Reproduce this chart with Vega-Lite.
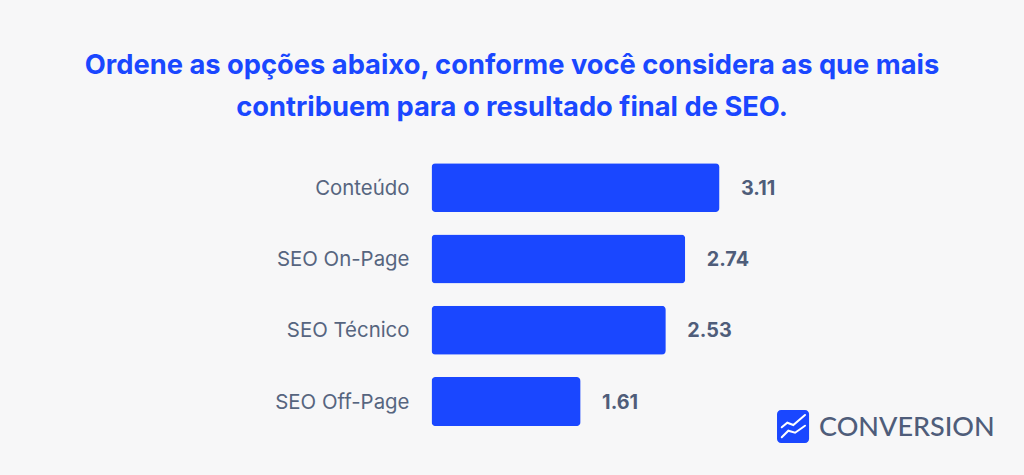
{"$schema":"https://vega.github.io/schema/vega-lite/v6.json","autosize":"none","padding":{"left":431.5,"right":0,"top":152,"bottom":37.8},"width":592.5,"height":285.2,"background":"#f7f7f8","title":{"text":["Ordene as opções abaixo, conforme você considera as que mais","contribuem para o resultado final de SEO."],"font":"Inter","fontSize":27.3,"fontWeight":700,"color":"#1a47ff","lineHeight":42,"anchor":"middle","align":"center","frame":"group","dx":-215.75,"offset":2.5,"baseline":"bottom"},"config":{"view":{"stroke":null}},"data":{"values":[{"opcao":"Conteúdo","media":3.11},{"opcao":"SEO On-Page","media":2.74},{"opcao":"SEO Técnico","media":2.53},{"opcao":"SEO Off-Page","media":1.61}]},"resolve":{"scale":{"y":"independent"}},"layer":[{"mark":{"type":"bar","color":"#1a47ff","cornerRadius":4},"encoding":{"y":{"field":"opcao","type":"nominal","sort":null,"scale":{"paddingInner":0.313,"paddingOuter":0.156},"axis":{"title":null,"domain":false,"ticks":false,"labelFont":"Inter","labelFontSize":20.4,"labelColor":"#56657f","labelPadding":22.5,"labelOffset":1}},"x":{"field":"media","type":"quantitative","scale":{"domain":[0,6.398],"nice":false},"axis":null}}},{"mark":{"type":"text","align":"left","dx":21.5,"dy":1,"font":"Inter","fontSize":19.8,"fontWeight":700,"color":"#4f5d7a"},"encoding":{"y":{"field":"opcao","type":"nominal","sort":null,"scale":{"paddingInner":0.313,"paddingOuter":0.156},"axis":null},"x":{"field":"media","type":"quantitative"},"text":{"field":"media","type":"quantitative","format":".2f"}}},{"data":{"values":[{"x":3.731,"x2":4.077,"y":258,"y2":291}]},"mark":{"type":"rect","color":"#1a47ff","cornerRadius":4,"clip":false},"encoding":{"x":{"field":"x","type":"quantitative"},"x2":{"field":"x2"},"y":{"field":"y","type":"quantitative","scale":{"domain":[0,285.2],"reverse":true,"nice":false},"axis":null},"y2":{"field":"y2"}}},{"data":{"values":[{"s":"a","i":1,"x":3.782,"y":275.3},{"s":"a","i":2,"x":3.842,"y":270.7},{"s":"a","i":3,"x":3.907,"y":273},{"s":"a","i":4,"x":4.033,"y":263},{"s":"b","i":1,"x":3.782,"y":285.3},{"s":"b","i":2,"x":3.853,"y":278.7},{"s":"b","i":3,"x":3.926,"y":280.7},{"s":"b","i":4,"x":4.033,"y":273.7}]},"mark":{"type":"line","color":"#ffffff","strokeWidth":2,"strokeCap":"round","clip":false},"encoding":{"x":{"field":"x","type":"quantitative"},"y":{"field":"y","type":"quantitative","scale":{"domain":[0,285.2],"reverse":true,"nice":false},"axis":null},"detail":{"field":"s"},"order":{"field":"i"}}},{"data":{"values":[{"x":4.185,"y":276,"marca":"CONVERSION"}]},"mark":{"type":"text","align":"left","baseline":"middle","font":"Lato","fontSize":27,"fontWeight":500,"color":"#4f5d7a"},"encoding":{"x":{"field":"x","type":"quantitative"},"y":{"field":"y","type":"quantitative","scale":{"domain":[0,285.2],"reverse":true,"nice":false},"axis":null},"text":{"field":"marca"}}}]}
